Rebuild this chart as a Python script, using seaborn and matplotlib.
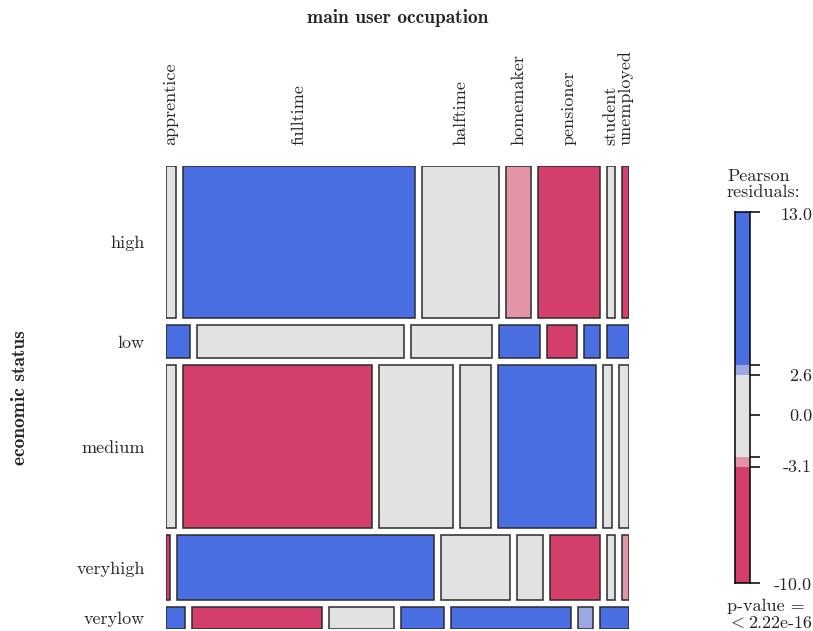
import numpy as np
import pandas as pd
import matplotlib
matplotlib.use("Agg")
import matplotlib.pyplot as plt
import seaborn as sns

# ---------------- data ----------------
status = ["high", "low", "medium", "veryhigh", "verylow"]
occupation = ["apprentice", "fulltime", "halftime", "homemaker",
              "pensioner", "student", "unemployed"]
counts_high = [185, 4356, 1433, 469, 1157, 161, 129]
counts_low = [100, 841, 330, 168, 121, 66, 92]
counts_medium = [203, 3790, 1481, 618, 1972, 171, 216]
counts_veryhigh = [31, 2053, 550, 210, 398, 65, 57]
counts_verylow = [52, 351, 175, 118, 324, 39, 80]

legend_tick_labels = ["13.0", "2.6", "0.0", "-3.1", "-10.0"]
pvalue_lines = ["p-value =", "$<$", "2.22e-16"]

# ---------------- style ----------------
sns.set_theme(style="white")
plt.rcParams["font.family"] = ["cmr10", "DejaVu Serif"]
plt.rcParams["mathtext.fontset"] = "cm"
plt.rcParams["axes.unicode_minus"] = False
FS = 13
FSB = 14

BLUE, LBLUE, GREY, PINK, RED = "#4A6FE3", "#9DA8E2", "#E2E2E2", "#E495A5", "#D33F6A"
EDGE = "#2b2b2b"

W, H = 813, 631
fig = plt.figure(figsize=(W / 100, H / 100), dpi=100)


def fx(x):
    return x / W


def fy(y):
    return 1 - y / H


# ---------------- mosaic ----------------
table = pd.DataFrame([counts_high, counts_low, counts_medium,
                      counts_veryhigh, counts_verylow],
                     index=status, columns=occupation).astype(float)
N = table.values.sum()
R = table.sum(axis=1).values
C = table.sum(axis=0).values
E = np.outer(R, C) / N
resid = (table.values - E) / np.sqrt(E)


def shade(r):
    if r > 4:
        return BLUE
    if r > 2:
        return LBLUE
    if r < -4:
        return RED
    if r < -2:
        return PINK
    return GREY


x0, x1, y0, y1 = 165.7, 629.3, 165.7, 629.3
ax = fig.add_axes([fx(x0), fy(y1), fx(x1) - fx(x0), fy(y0) - fy(y1)])
ax.set_xlim(0, 1)
ax.set_ylim(0, 1)
ax.set_axis_off()

gap = 7.0 / (x1 - x0)
nr, nc = table.shape
avail_h = 1 - gap * (nr - 1)
heights = R / N * avail_h
top = 1.0
row_centers = []
first_row_centers = None
for i in range(nr):
    h = heights[i]
    bottom = top - h
    q = table.values[i] / R[i]
    widths = q * (1 - gap * (nc - 1))
    lefts = np.concatenate([[0], np.cumsum(widths[:-1] + gap)])
    cols = [shade(r) for r in resid[i]]
    ax.bar(lefts, h, width=widths, bottom=bottom, align="edge",
           color=cols, edgecolor=EDGE, linewidth=1.1)
    if i == 0:
        first_row_centers = lefts + widths / 2
    row_centers.append(bottom + h / 2)
    top = bottom - gap

# column labels (positioned at first row tiles)
for lab, cx in zip(occupation, first_row_centers):
    ax.annotate(lab, xy=(cx, 1), xycoords=("data", "axes fraction"),
                xytext=(0, 15), textcoords="offset points", rotation=90,
                ha="center", va="bottom", fontsize=FS)

# row labels
for lab, cy in zip(status, row_centers):
    ax.annotate(lab, xy=(0, cy), xycoords=("axes fraction", "data"),
                xytext=(-15, -1), textcoords="offset points",
                ha="right", va="center", fontsize=FS)

fig.text(fx(397.5), fy(18), "main user occupation", ha="center", va="center",
         fontsize=FSB, family=["cmb10", "DejaVu Serif"])
fig.text(fx(20), fy(397.5), "economic status", ha="center", va="center",
         rotation=90, fontsize=FSB, family=["cmb10", "DejaVu Serif"])

# ---------------- legend ----------------
lb_top, lb_bot = 211.7, 582.7
lax = fig.add_axes([fx(735), fy(lb_bot), fx(750) - fx(735), fy(lb_top) - fy(lb_bot)])
lax.set_xlim(0, 1)
lax.set_ylim(lb_bot, lb_top)
band_edges = [582.7, 466.7, 457.3, 375.0, 365.0, 211.7]
band_cols = [RED, PINK, GREY, LBLUE, BLUE]
for (a, b), c in zip(zip(band_edges[:-1], band_edges[1:]), band_cols):
    lax.bar(0, b - a, bottom=a, width=1, align="edge", color=c, linewidth=0)
for s in lax.spines.values():
    s.set_visible(True)
    s.set_color("black")
    s.set_linewidth(1.1)
lax.set_xticks([])
tick_pos = [211.7, 365.0, 375.0, 415.0, 457.3, 466.7, 582.7]
lax.yaxis.tick_right()
lax.set_yticks(tick_pos)
lax.set_yticklabels([])
lax.tick_params(axis="y", which="both", right=True, left=False, length=7.5,
                width=1.1, color="black", direction="out")

label_y = [215, 376, 416, 467, 585]
for lab, yy in zip(legend_tick_labels, label_y):
    fig.text(fx(812), fy(yy), lab, ha="right", va="center", fontsize=FS)

fig.text(fx(727), fy(176), "Pearson", ha="left", va="center", fontsize=FS)
fig.text(fx(727), fy(192), "residuals:", ha="left", va="center", fontsize=FS)
fig.text(fx(727), fy(606), pvalue_lines[0], ha="left", va="center", fontsize=FS)
fig.text(fx(727), fy(623), pvalue_lines[1], ha="left", va="center", fontsize=FS)
fig.text(fx(812), fy(623), pvalue_lines[2], ha="right", va="center", fontsize=FS)

fig.savefig("out.png", dpi=100)
